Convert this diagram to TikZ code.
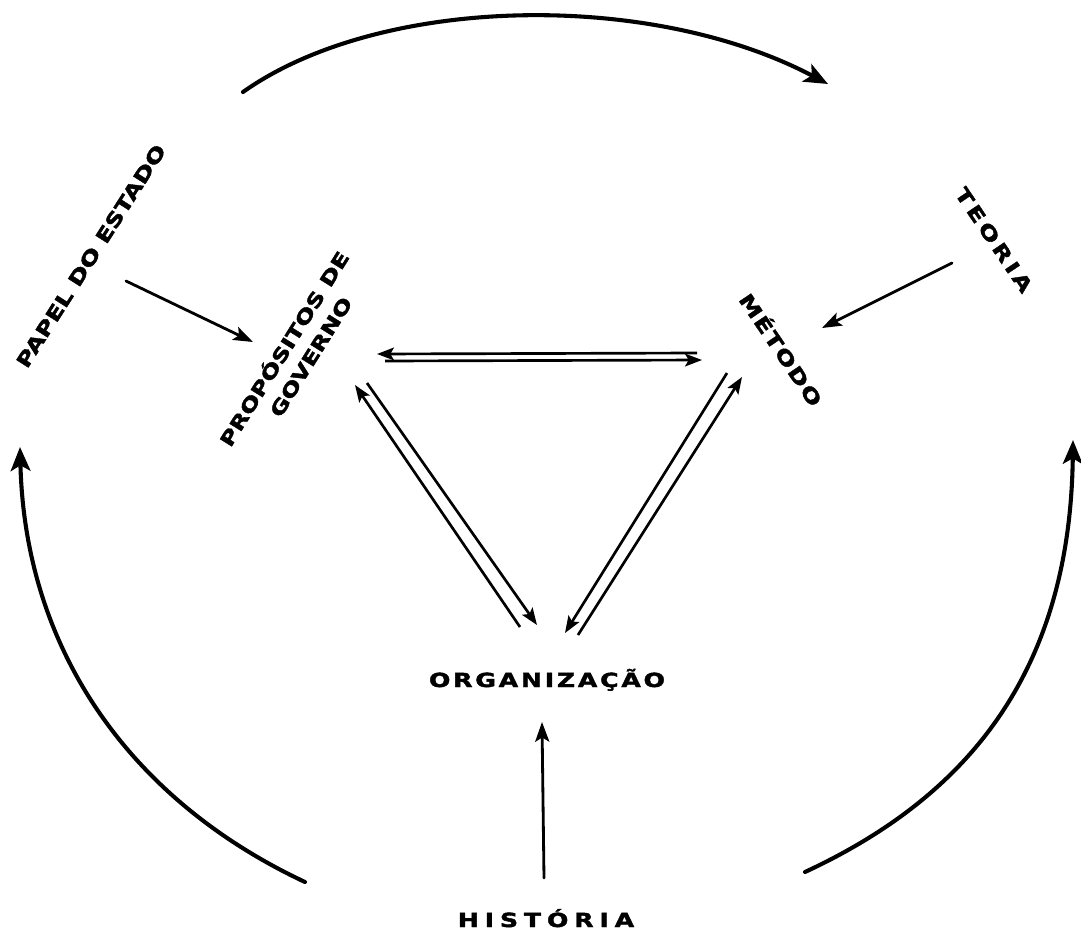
\documentclass[tikz,border=0pt]{standalone}
\usepackage{fontspec}
\setmainfont{DejaVu Sans}
\newfontfamily\fpapel[FakeStretch=1.3,FakeBold=2]{DejaVu Sans Bold}
\newfontfamily\fprop[FakeStretch=1.3,FakeBold=2]{DejaVu Sans Bold}
\newfontfamily\fteoria[FakeStretch=1.3,FakeBold=2,LetterSpace=18]{DejaVu Sans Bold}
\newfontfamily\fmetodo[FakeStretch=1.3,FakeBold=2,LetterSpace=8]{DejaVu Sans Bold}
\newfontfamily\forg[FakeStretch=1.3,FakeBold=2,LetterSpace=14]{DejaVu Sans Bold}
\newfontfamily\fhist[FakeStretch=1.3,FakeBold=2,LetterSpace=30]{DejaVu Sans Bold}
\usetikzlibrary{arrows.meta}
\begin{document}
\begin{tikzpicture}[x=0.025cm,y=-0.025cm,
  lbl/.style={inner sep=0pt},
  bigarc/.style={line width=2.9pt, line cap=round, -{Stealth[length=17pt,width=14pt,inset=4pt]}},
  feed/.style={line width=2pt, line cap=round, -{Stealth[length=14pt,width=10pt,inset=3pt]}},
  rel/.style={line width=1.9pt, -{Stealth[length=12pt,width=9pt,inset=2.5pt]}}]
\useasboundingbox (0,0) rectangle (1081,934);
\fill[white] (0,0) rectangle (1081,934);

% labels
\node[lbl, rotate=57.5] (papel) at (91,256) {\fpapel\fontsize{13.8}{16}\selectfont PAPEL DO ESTADO};
\node[lbl, rotate=58] (prop1) at (283,348) {\fprop\fontsize{13.5}{16}\selectfont PROPÓSITOS DE};
\node[lbl, rotate=58] (prop2) at (311,357) {\fprop\fontsize{13.5}{16}\selectfont GOVERNO};
\node[lbl, rotate=-56] (teoria) at (994,240) {\fteoria\fontsize{13.8}{16}\selectfont TEORIA};
\node[lbl, rotate=-56] (metodo) at (782,349) {\fmetodo\fontsize{13.8}{16}\selectfont MÉTODO};
\node[lbl, anchor=base] (org) at (547,687) {\forg\fontsize{13.8}{16}\selectfont ORGANIZAÇÃO};
\node[lbl, anchor=base] (hist) at (546,927) {\fhist\fontsize{13.8}{16}\selectfont HISTÓRIA};

% coordinates
\coordinate (tS) at (243,92);   \coordinate (tE) at (828,84);
\coordinate (lS) at (305,882);  \coordinate (lE) at (20,447);
\coordinate (rS) at (805,872);  \coordinate (rE) at (1073,440);
\coordinate (pa1) at (126,281); \coordinate (pa2) at (253,342);
\coordinate (te1) at (952,263); \coordinate (te2) at (822,328);
\coordinate (hi1) at (544,878); \coordinate (hi2) at (542,722);
% triangle
\coordinate (t1a) at (697,353); \coordinate (t1b) at (377,354);
\coordinate (t2a) at (385,361); \coordinate (t2b) at (702,360);
\coordinate (l1a) at (520,627); \coordinate (l1b) at (355,385);
\coordinate (l2a) at (367,383); \coordinate (l2b) at (537,625);
\coordinate (r1a) at (727,373); \coordinate (r1b) at (565,633);
\coordinate (r2a) at (578,635); \coordinate (r2b) at (742,377);

% big arcs
\draw[bigarc] (tS) .. controls (380,-5) and (650,-10) .. (tE);
\draw[bigarc] (lS) .. controls (130,800) and (25,650) .. (lE);
\draw[bigarc] (rS) .. controls (960,800) and (1070,680) .. (rE);

% feeding arrows
\draw[feed] (pa1) -- (pa2);
\draw[feed] (te1) -- (te2);
\draw[feed] (hi1) -- (hi2);

% relation arrows
\draw[rel] (t1a) -- (t1b);
\draw[rel] (t2a) -- (t2b);
\draw[rel] (l1a) -- (l1b);
\draw[rel] (l2a) -- (l2b);
\draw[rel] (r1a) -- (r1b);
\draw[rel] (r2a) -- (r2b);
\end{tikzpicture}
\end{document}
